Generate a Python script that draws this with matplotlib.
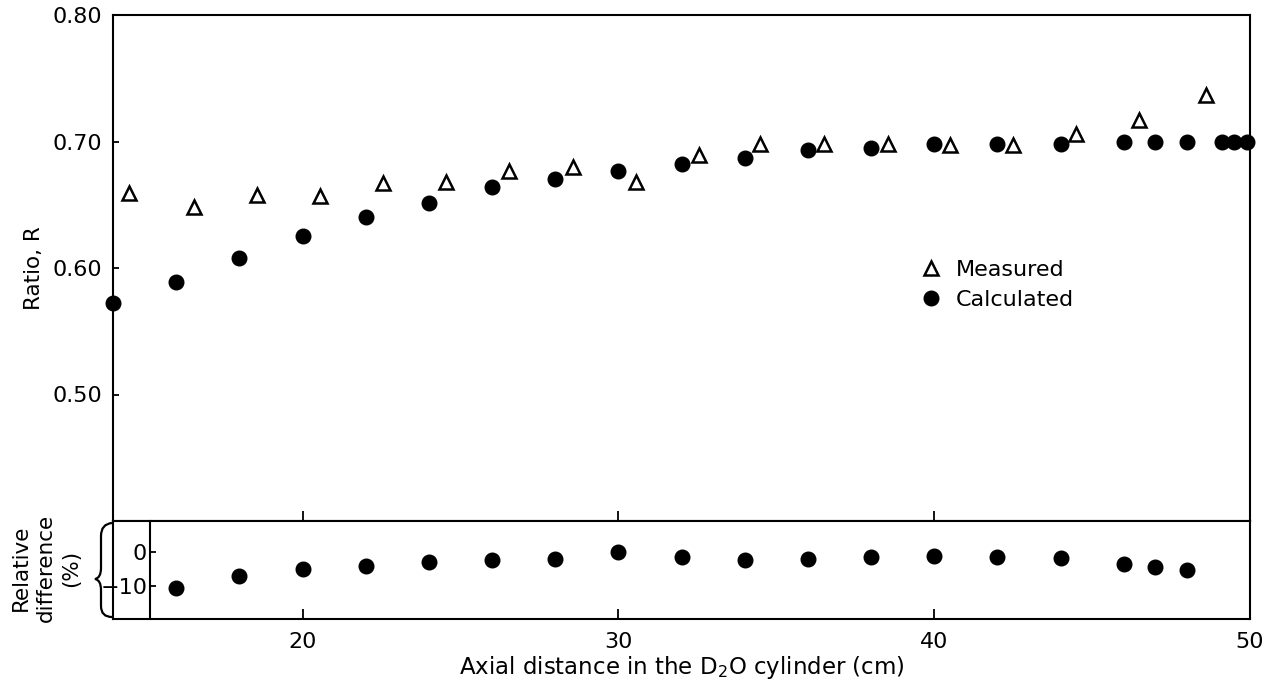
import matplotlib
matplotlib.use('Agg')
import matplotlib.pyplot as plt
from matplotlib.path import Path
from matplotlib.patches import PathPatch

# measured ratio (triangles)
meas_x = [14.5, 16.55, 18.55, 20.55, 22.55, 24.55, 26.55, 28.55, 30.55, 32.55,
          34.5, 36.5, 38.55, 40.5, 42.5, 44.5, 46.5, 48.6]
meas_r = [0.659, 0.648, 0.658, 0.657, 0.667, 0.668, 0.677, 0.680, 0.668, 0.689,
          0.698, 0.698, 0.698, 0.697, 0.697, 0.706, 0.717, 0.737]

# calculated ratio (filled circles)
calc_x = [14, 16, 18, 20, 22, 24, 26, 28, 30, 32, 34, 36, 38, 40, 42, 44, 46, 47,
          48, 49.1, 49.5, 49.9]
calc_r = [0.572, 0.589, 0.608, 0.625, 0.640, 0.651, 0.664, 0.670, 0.677, 0.682,
          0.687, 0.693, 0.695, 0.698, 0.698, 0.698, 0.700, 0.700, 0.700, 0.700,
          0.700, 0.700]

# relative difference (%)
diff_x = [16, 18, 20, 22, 24, 26, 28, 30, 32, 34, 36, 38, 40, 42, 44, 46, 47, 48]
diff_v = [-10.6, -7.0, -5.0, -4.1, -2.9, -2.4, -2.1, -0.1, -1.5, -2.3, -2.2, -1.5,
          -1.3, -1.5, -1.8, -3.5, -4.5, -5.2]

r_ticks = [0.50, 0.60, 0.70, 0.80]
r_labels = ['0.50', '0.60', '0.70', '0.80']
x_ticks = [20, 30, 40, 50]

plt.rcParams['font.family'] = ['DejaVu Sans']
W, H = 1268, 686
fig = plt.figure(figsize=(W / 100, H / 100), dpi=100)

ax = fig.add_axes([113 / W, 1 - 521 / H, 1137 / W, 506 / H])
ax2 = fig.add_axes([113 / W, 1 - 619 / H, 1137 / W, 98 / H])

# upper panel
ax.plot(meas_x, meas_r, ls='none', marker='^', ms=9.5, mfc='white', mec='black',
        mew=1.8, label='Measured', clip_on=False, zorder=3)
ax.plot(calc_x, calc_r, ls='none', marker='o', ms=10.5, color='black',
        label='Calculated', clip_on=False, zorder=3)
ax.set_xlim(14, 50)
ax.set_ylim(0.40, 0.80)
ax.set_yticks(r_ticks)
ax.set_yticklabels(r_labels)
ax.set_xticks(x_ticks[:-1])
ax.tick_params(axis='x', direction='in', length=7, width=1.3, labelbottom=False)
ax.tick_params(axis='y', direction='in', length=4, width=1.3, labelsize=16, pad=8)
for s in ax.spines.values():
    s.set_linewidth(1.5)
ax.set_ylabel('Ratio, R', fontsize=15.5, labelpad=6)

leg = ax.legend(loc='center left', bbox_to_anchor=(0.710, 0.466), frameon=False,
                fontsize=16, handlelength=1.0, handletextpad=0.6,
                labelspacing=0.45, borderpad=0, borderaxespad=0)

# lower panel
ax2.plot(diff_x, diff_v, ls='none', marker='o', ms=10.5, color='black', clip_on=False)
ax2.set_xlim(14, 50)
ax2.set_ylim(-19.4, 8.8)
ax2.set_xticks(x_ticks)
ax2.tick_params(axis='x', direction='in', length=7, width=1.3, labelsize=16, pad=9)
ax2.spines['left'].set_position(('data', 15.17))
ax2.set_yticks([0, -10])
ax2.tick_params(axis='y', direction='in', length=4, width=1.3, labelsize=16, pad=2)
for s in ax2.spines.values():
    s.set_linewidth(1.5)
ax2.axvline(14, color='black', lw=1.5, clip_on=False)
ax2.set_xlabel('Axial distance in the D$_2$O cylinder (cm)', fontsize=16.5, labelpad=2)

fig.text(46 / W, 1 - 568 / H, 'Relative\ndifference\n(%)', rotation=90,
         ha='center', va='center', multialignment='center', fontsize=15.5,
         linespacing=1.35)

# curly brace next to the lower panel
def px(x, y):
    return (x / W, 1 - y / H)

verts = [px(112, 523), px(101, 524), px(101, 536), px(101, 568), px(101, 578),
         px(95, 579), px(101, 580), px(101, 590), px(101, 606), px(101, 617),
         px(112, 617)]
codes = [Path.MOVETO, Path.CURVE3, Path.CURVE3, Path.LINETO, Path.CURVE3,
         Path.CURVE3, Path.CURVE3, Path.CURVE3, Path.LINETO, Path.CURVE3,
         Path.CURVE3]
fig.patches.append(PathPatch(Path(verts, codes), transform=fig.transFigure,
                             fill=False, lw=1.6, color='black'))

fig.savefig('out.png', dpi=100)
